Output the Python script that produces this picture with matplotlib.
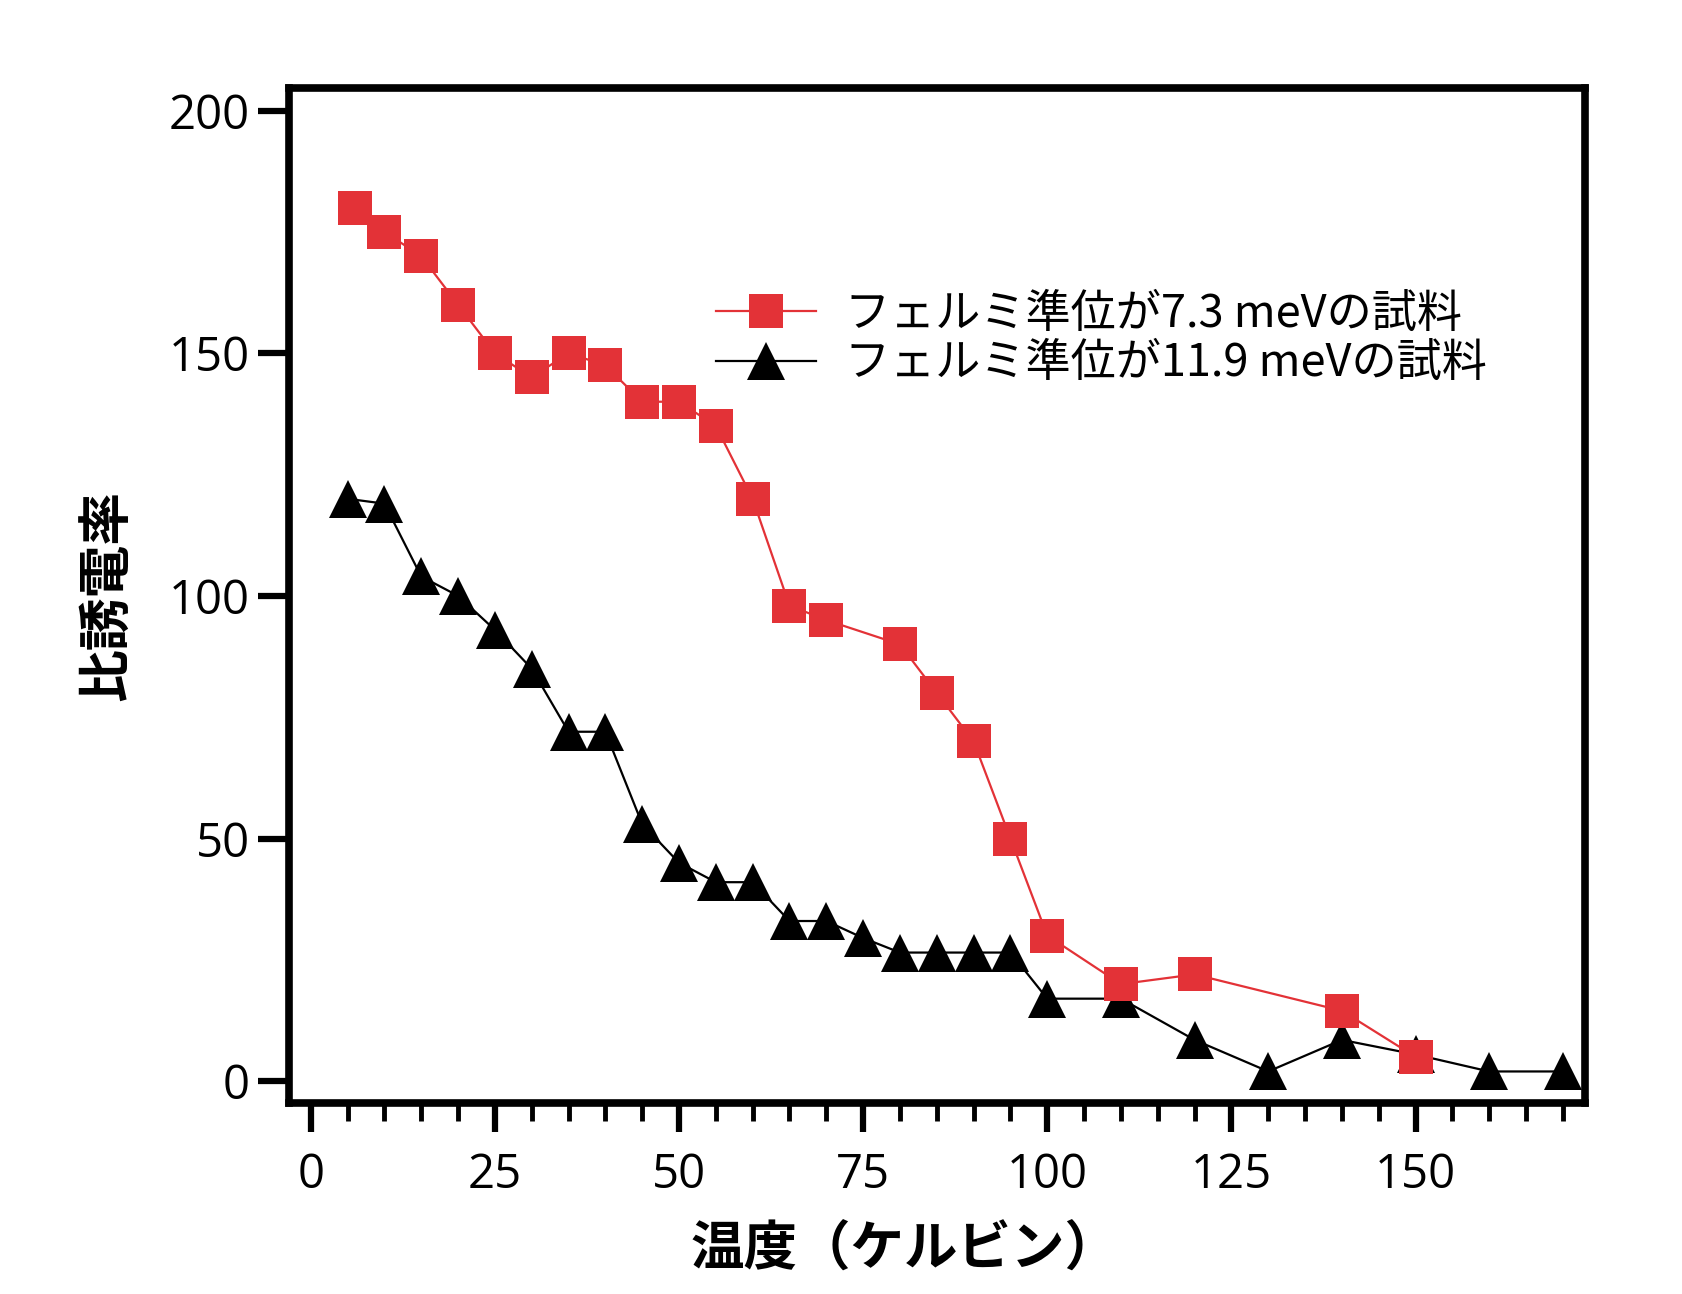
import matplotlib
matplotlib.use('Agg')
import matplotlib.pyplot as plt
from matplotlib.ticker import MultipleLocator

plt.rcParams['font.family'] = ['Noto Sans CJK JP', 'DejaVu Sans']

# sample with Fermi level 7.3 meV (red squares)
temp_red = [6, 10, 15, 20, 25, 30, 35, 40, 45, 50, 55, 60, 65, 70, 80, 85, 90, 95, 100, 110, 120, 140, 150]
eps_red = [180, 175, 170, 160, 150, 145, 150, 147.5, 140, 140, 135, 120, 98, 95, 90, 80, 70, 50, 30, 20, 22, 14.5, 5]

# sample with Fermi level 11.9 meV (black triangles)
temp_black = [5, 10, 15, 20, 25, 30, 35, 40, 45, 50, 55, 60, 65, 70, 75, 80, 85, 90, 95, 100, 110, 120, 130, 140, 150, 160, 170]
eps_black = [120, 119, 104, 100, 93, 85, 72, 72, 53, 45, 41, 41, 33, 33, 29.5, 26.5, 26.5, 26.5, 26.5, 17, 17, 8.5, 2, 8.5, 5.5, 2, 2]

label_red = 'フェルミ準位が7.3 meVの試料'
label_black = 'フェルミ準位が11.9 meVの試料'
xlabel = '温度（ケルビン）'
ylabel = '比誘電率'

red = '#e33237'

fig = plt.figure(figsize=(16.82, 12.94), dpi=100)
ax = fig.add_axes([0.1716, 0.1476, 0.9423 - 0.1716, 0.9322 - 0.1476])

# black first so red sits on top
l2, = ax.plot(temp_black, eps_black, color='black', lw=1.6, marker='^', ms=27,
              markeredgewidth=0, zorder=2)
l1, = ax.plot(temp_red, eps_red, color=red, lw=1.6, marker='s', ms=24.5,
              markeredgewidth=0, zorder=3)

ax.set_xlim(-3.0, 173)
ax.set_ylim(-4.5, 204.7)

ax.xaxis.set_major_locator(MultipleLocator(25))
ax.xaxis.set_minor_locator(MultipleLocator(5))
ax.yaxis.set_major_locator(MultipleLocator(50))

for s in ax.spines.values():
    s.set_linewidth(5.5)

ax.tick_params(axis='y', which='major', direction='out', length=22, width=4.5,
               labelsize=34, pad=6)
ax.tick_params(axis='x', which='major', direction='out', length=21, width=4.5,
               labelsize=34, pad=14)
ax.tick_params(axis='x', which='minor', direction='out', length=13, width=3.5)
for lab in ax.get_xticklabels() + ax.get_yticklabels():
    lab.set_family(['Open Sans', 'DejaVu Sans'])

ax.set_xlabel(xlabel, fontsize=38.5, fontweight='bold')
ax.xaxis.set_label_coords(0.475, -0.118)
ax.set_ylabel(ylabel, fontsize=38, fontweight='bold')
ax.yaxis.set_label_coords(-0.119, 0.5)

ax.legend([l1, l2], [label_red, label_black], loc='upper left',
          bbox_to_anchor=(0.33, 0.80), frameon=False, fontsize=32.5,
          handlelength=2.2, handletextpad=0.65, labelspacing=0.08,
          borderpad=0, borderaxespad=0)

fig.savefig('out.png', dpi=100)
